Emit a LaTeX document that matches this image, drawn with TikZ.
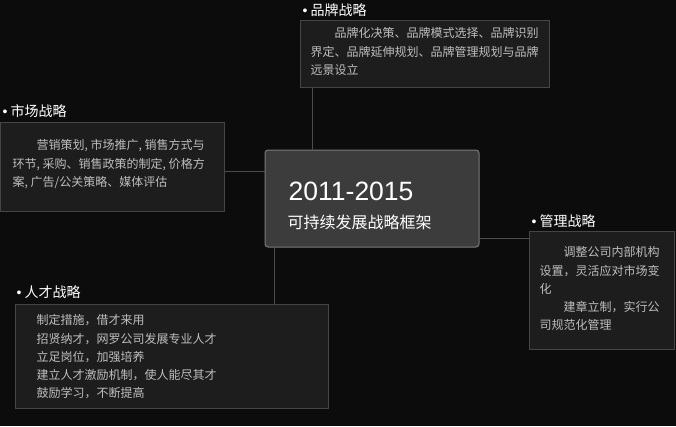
\documentclass[tikz,border=0pt]{standalone}
\usepackage{fontspec}
\usepackage{xcolor}
\usepackage{tikz}
\usetikzlibrary{positioning}
\setmainfont{Liberation Sans}
\newfontfamily\cjk{Noto Sans CJK SC}
\definecolor{bgdark}{HTML}{0C0C0C}
\definecolor{boxfill}{HTML}{1D1D1D}
\definecolor{boxline}{HTML}{454545}
\definecolor{hubfill}{HTML}{3C3C3C}
\definecolor{hubline}{HTML}{7A7A7A}
\definecolor{bodytext}{HTML}{BEBEBE}
\definecolor{linkline}{HTML}{4C4C4C}
\tikzset{
    topicbox/.style={ % Sets the properties for each branch box
        draw=boxline,
        fill=boxfill,
        line width=1pt,
        inner sep=0pt
    },
    hubbox/.style={ % Central box
        draw=hubline,
        fill=hubfill,
        rounded corners=3pt,
        line width=1pt,
        inner sep=0pt
    },
    topic/.style={ % Heading above a box
        anchor=west,
        inner sep=0pt,
        text=white,
        font=\fontsize{14pt}{16pt}\selectfont\cjk
    },
    bodytxt/.style={ % Text inside a box
        anchor=north west,
        inner sep=0pt,
        align=left,
        text=bodytext,
        font=\fontsize{12pt}{18.2pt}\selectfont\cjk
    },
    link/.style={ % Connectors
        draw=linkline,
        line width=1pt
    }
}
\newcommand{\dotmark}{{\rmfamily\textbullet}\ }
\newcommand{\indentcjk}{\hspace*{24pt}}

\begin{document}
\begin{tikzpicture}[x=1pt,y=-1pt]
            \fill[bgdark] (0,0) rectangle (676,426);
            \useasboundingbox (0,0) rectangle (676,426);

            \node[hubbox, minimum width=214pt, minimum height=97pt] (hub) at (372,198.5) {};
            \node[topicbox, minimum width=249pt, minimum height=67pt] (brand) at (424.5,53.5) {};
            \node[topicbox, minimum width=224pt, minimum height=89pt] (mkt) at (112,166.5) {};
            \node[topicbox, minimum width=145pt, minimum height=118pt] (mgmt) at (601.5,290) {};
            \node[topicbox, minimum width=313pt, minimum height=104pt] (talent) at (171.5,356) {};

            % connectors
            \draw[link] ([xshift=13pt]brand.south west) -- ([xshift=13pt]brand.south west |- hub.north);
            \draw[link] ([yshift=-4.5pt]mkt.east) -- ([yshift=-4.5pt]mkt.east -| hub.west);
            \draw[link] ([yshift=-8pt]mgmt.north west) -- ([yshift=-8pt]mgmt.north west -| hub.east);
            \draw[link] ([xshift=10pt]hub.south west) -- ([xshift=10pt]hub.south west |- talent.north);

            % centre
            \node[anchor=west, inner sep=0pt, text=white, font=\fontsize{26.5pt}{28pt}\selectfont]
                (year) at ([xshift=24pt,yshift=7.5pt]hub.west) {2011-2015};
            \node[anchor=west, inner sep=0pt, text=white, font=\fontsize{16pt}{18pt}\selectfont\cjk]
                (title) at ([xshift=23pt,yshift=-23.5pt]hub.west) {可持续发展战略框架};

            % headings
            \node[topic] (brandT) at ([xshift=3pt,yshift=9pt]brand.north west) {\dotmark 品牌战略};
            \node[topic] (mktT) at ([xshift=3pt,yshift=10pt]mkt.north west) {\dotmark 市场战略};
            \node[topic] (mgmtT) at ([xshift=3pt,yshift=9pt]mgmt.north west) {\dotmark 管理战略};
            \node[topic] (talentT) at ([xshift=2pt,yshift=11pt]talent.north west) {\dotmark 人才战略};

            % box texts
            \node[bodytxt] (brandB) at ([xshift=11pt,yshift=-8pt]brand.north west)
                {\indentcjk 品牌化决策、品牌模式选择、品牌识别\\界定、品牌延伸规划、品牌管理规划与品牌\\远景设立};
            \node[bodytxt] (mktB) at ([xshift=13pt,yshift=-18pt]mkt.north west)
                {\indentcjk 营销策划, 市场推广, 销售方式与\\环节, 采购、销售政策的制定, 价格方\\案, 广告/公关策略、媒体评估};
            \node[bodytxt] (mgmtB) at ([xshift=11pt,yshift=-16pt]mgmt.north west)
                {\indentcjk 调整公司内部机构\\设置，灵活应对市场变\\化\\\indentcjk 建章立制，实行公\\司规范化管理};
            \node[bodytxt] (talentB) at ([xshift=22pt,yshift=-11pt]talent.north west)
                {制定措施，借才来用\\招贤纳才，网罗公司发展专业人才\\立足岗位，加强培养\\建立人才激励机制，使人能尽其才\\鼓励学习，不断提高};
        \end{tikzpicture}
\end{document}
